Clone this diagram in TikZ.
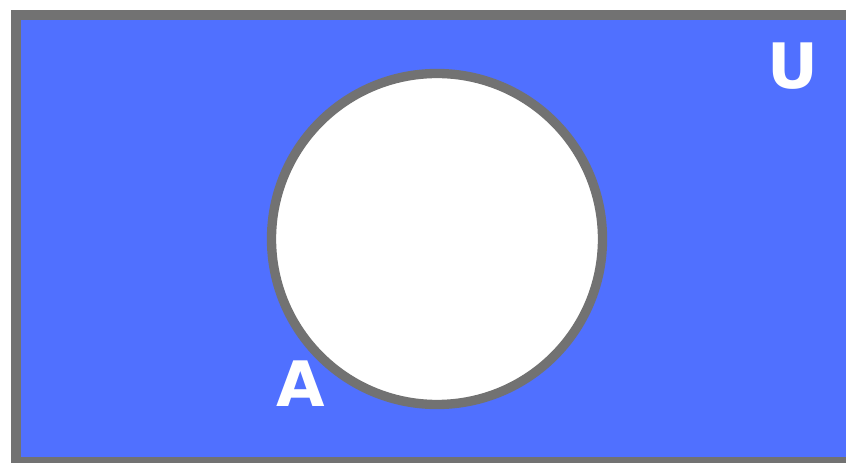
\documentclass[tikz,border=0pt]{standalone}
\usepackage{fontspec}
\setmainfont{DejaVu Sans}
\usepackage{tikz}
\usetikzlibrary{positioning}
\definecolor{setblue}{RGB}{80,112,255}
\definecolor{setgray}{RGB}{114,114,114}
\tikzset{
    setlabel/.style={text=white, inner sep=0pt, font=\fontsize{47}{47}\bfseries\selectfont}
}

\begin{document}
\begin{tikzpicture}[x=0.75pt, y=-0.75pt]
    % Khung hình
    \useasboundingbox (0,0) rectangle (846,463);
    \clip (0,0) rectangle (846,463);
    \fill[white] (0,0) rectangle (846,463);

    % Tập U (hình chữ nhật tô màu)
    \draw[setgray, fill=setblue, line width=7.5pt] (16,15) rectangle (870,462);

    % Tập A (hình tròn để trắng)
    \draw[setgray, fill=white, line width=7pt] (437,239) circle (165.5);

    % Nhãn
    \node[setlabel] (labelU) at (792.5,66) {U};
    \node[setlabel] (labelA) at (301,384) {A};
\end{tikzpicture}
\end{document}
